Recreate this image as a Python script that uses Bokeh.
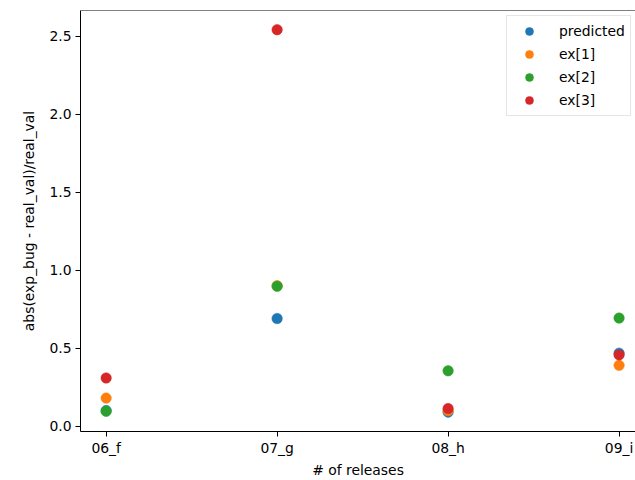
from bokeh.plotting import figure
from bokeh.models import (ColumnDataSource, FixedTicker, PrintfTickFormatter, Span,
                          Range1d, Legend, LegendItem)
from bokeh.embed import file_html
from bokeh.resources import INLINE

categories = ["06_f", "07_g", "08_h", "09_i"]
predicted = [0.10, 0.69, 0.09, 0.468]
ex1 = [0.18, 0.90, 0.10, 0.39]
ex2 = [0.096, 0.897, 0.355, 0.693]
ex3 = [0.309, 2.541, 0.113, 0.457]
series_names = ["predicted", "ex[1]", "ex[2]", "ex[3]"]
colors = ["#1f77b4", "#ff7f0e", "#2ca02c", "#d62728"]
y_ticks = [0.0, 0.5, 1.0, 1.5, 2.0, 2.5]

FONT = "DejaVu Sans"
xs = list(range(len(categories)))
y_start, y_end = -0.034, 2.664

p = figure(width=635, height=480, output_backend="svg", toolbar_location=None,
           x_range=Range1d(-0.15, 3.096), y_range=Range1d(y_start, y_end),
           min_border_left=80, min_border_right=0, min_border_top=10, min_border_bottom=48)
p.outline_line_color = None
p.xgrid.visible = False
p.ygrid.visible = False
p.background_fill_color = "white"
p.border_fill_color = "white"

items = []
for name, vals, c in zip(series_names, [predicted, ex1, ex2, ex3], colors):
    src = ColumnDataSource(dict(x=xs, y=vals))
    r = p.scatter("x", "y", source=src, size=10.5, fill_color=c, line_color=c, line_width=0.5)
    items.append(LegendItem(label=name, renderers=[r]))

for ax in (p.xaxis[0], p.yaxis[0]):
    ax.axis_line_color = "black"
    ax.axis_line_width = 1
    ax.major_tick_line_color = "black"
    ax.major_tick_line_width = 1
    ax.major_tick_out = 5
    ax.major_tick_in = 0
    ax.minor_tick_line_color = None
    ax.major_label_text_font = FONT
    ax.major_label_text_font_size = "13.9px"
    ax.major_label_text_color = "black"
    ax.axis_label_text_font = FONT
    ax.axis_label_text_font_size = "13.9px"
    ax.axis_label_text_font_style = "normal"
    ax.axis_label_text_color = "black"
    ax.major_label_standoff = 4

p.xaxis[0].ticker = FixedTicker(ticks=xs)
p.xaxis[0].major_label_overrides = {i: c for i, c in enumerate(categories)}
p.xaxis[0].axis_label = "# of releases"
p.xaxis[0].axis_label_standoff = 3
p.xaxis[0].major_label_standoff = 3
p.yaxis[0].ticker = FixedTicker(ticks=y_ticks)
p.yaxis[0].formatter = PrintfTickFormatter(format="%.1f")
p.yaxis[0].axis_label = "abs(exp_bug - real_val)/real_val"
p.yaxis[0].axis_label_standoff = 9

# top spine of the axes box
p.add_layout(Span(location=y_end, dimension="width", line_color="black", line_width=1))

legend = Legend(items=items, location=(426, 315), orientation="vertical",
                label_text_font=FONT, label_text_font_size="13.9px", label_text_color="black",
                glyph_width=34, glyph_height=20, label_height=20, label_standoff=13,
                spacing=3, padding=5, margin=0,
                border_line_color="#cccccc", border_line_width=1,
                background_fill_color="white", background_fill_alpha=0.8)
p.add_layout(legend)

open("out.html", "w").write(file_html(p, INLINE))
